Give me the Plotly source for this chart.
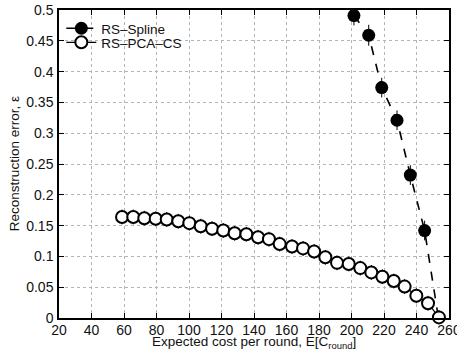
import plotly.graph_objects as go

# ---- data ----
spline_cost = [201.5, 210.6, 218.6, 228.0, 236.2, 245.0, 253.5]
spline_err = [0.491, 0.459, 0.374, 0.321, 0.232, 0.142, 0.0]
spline_ci = [0.016, 0.017, 0.016, 0.016, 0.016, 0.016, 0.010]

pcacs_cost = [58.8, 65.7, 72.5, 79.5, 86.3, 93.4, 100.2, 107.2, 114.2, 121.1,
              128.1, 135.3, 142.5, 149.2, 155.8, 163.4, 170.2, 177.0, 183.9, 191.1,
              198.3, 205.4, 212.2, 219.0, 226.0, 232.7, 239.9, 247.1, 253.8]
pcacs_err = [0.164, 0.164, 0.162, 0.161, 0.160, 0.157, 0.154, 0.149, 0.145, 0.142,
             0.1375, 0.136, 0.131, 0.128, 0.120, 0.116, 0.113, 0.108, 0.0985, 0.0895,
             0.0877, 0.081, 0.074, 0.067, 0.060, 0.051, 0.036, 0.024, 0.001]
pcacs_ci = [0.012] * len(pcacs_cost)

x_ticks = list(range(20, 261, 20))
y_ticks = [0, 0.05, 0.1, 0.15, 0.2, 0.25, 0.3, 0.35, 0.4, 0.45, 0.5]
y_tick_labels = ["0", "0.05", "0.1", "0.15", "0.2", "0.25", "0.3", "0.35", "0.4", "0.45", "0.5"]

FONT = "Liberation Sans, Arial, Helvetica, sans-serif"

fig = go.Figure()
fig.add_trace(go.Scatter(
    x=spline_cost, y=spline_err, name="RS\u2013Spline",
    mode="lines+markers",
    line=dict(color="black", width=1.6, dash="dash"),
    marker=dict(symbol="circle", size=13, color="black"),
    error_y=dict(type="data", array=spline_ci, color="black", thickness=1, width=0),
    cliponaxis=True, legend="legend",
))
fig.add_trace(go.Scatter(
    x=pcacs_cost, y=pcacs_err, name="RS\u2013PCA\u2013CS",
    mode="lines+markers",
    line=dict(color="black", width=1.2),
    marker=dict(symbol="circle", size=12, color="white", line=dict(color="black", width=2)),
    error_y=dict(type="data", array=pcacs_ci, color="black", thickness=1, width=0),
    cliponaxis=False, legend="legend2",
))

axis_common = dict(
    showline=True, linecolor="black", linewidth=1.5, mirror="ticks",
    ticks="inside", ticklen=5, tickcolor="black", tickwidth=1,
    showgrid=True, gridcolor="#b5b5b5", griddash="dot", gridwidth=1,
    zeroline=False, automargin=False, ticklabeloverflow="allow",
    tickfont=dict(family=FONT, size=14, color="#111111"),
)

fig.update_xaxes(range=[20, 260], tickvals=x_ticks, ticklabelstandoff=-2, **axis_common)
fig.update_yaxes(range=[0, 0.5], tickvals=y_ticks, ticktext=y_tick_labels, ticklabelstandoff=1, **axis_common)

legend_common = dict(xanchor="left", yanchor="top", bgcolor="rgba(0,0,0,0)", borderwidth=0,
                     font=dict(family=FONT, size=13.5, color="#111111"), itemwidth=30)

fig.update_layout(
    width=457, height=358,
    margin=dict(l=59, r=8, t=10, b=40),
    paper_bgcolor="white", plot_bgcolor="white",
    font=dict(family=FONT, size=13, color="black"),
    showlegend=True,
    legend=dict(x=0.006, y=1.0 - 3 / 308, **legend_common),
    legend2=dict(x=0.006, y=1.0 - 17 / 308, **legend_common),
    annotations=[
        dict(text="Expected cost per round, E[C<sub>round</sub>]",
             xref="paper", yref="paper", x=0.5, y=-0.045,
             xanchor="center", yanchor="top", showarrow=False,
             font=dict(family=FONT, size=13.5, color="#111111")),
        dict(text="Reconstruction error, \u03b5",
             xref="paper", yref="paper", x=-0.115, y=0.5,
             xanchor="center", yanchor="middle", textangle=-90, showarrow=False,
             font=dict(family=FONT, size=13.5, color="#111111")),
    ],
)

# remove the default 8 px body margin of the page so the figure starts at the window corner
fig.write_html("out.html", config={"displayModeBar": False},
               post_script="document.body.style.margin='0px';")
